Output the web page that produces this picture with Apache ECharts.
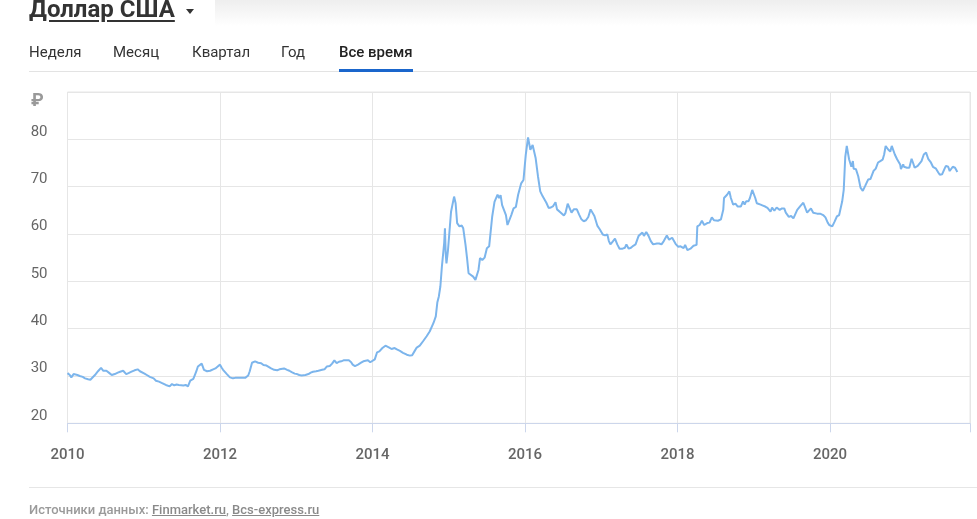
<!DOCTYPE html>
<html>
<head>
<meta charset="utf-8">
<script src="https://cdn.jsdelivr.net/npm/echarts@6/dist/echarts.min.js"></script>
<style>
  html, body { margin:0; padding:0; background:#fff; }
  body { width:977px; height:519px; position:relative; overflow:hidden; font-family: Roboto, "Noto Sans", Arial, sans-serif; }
  #chart { position:absolute; left:0; top:0; width:977px; height:519px; }
  .abs { position:absolute; white-space:nowrap; }
  .tab { font-size:15px; color:#333; line-height:20px; top:42px; }
</style>
</head>
<body>
<div id="chart"></div>
<div class="abs" style="left:215px;top:0;width:762px;height:26px;background:linear-gradient(#eeeeee,#ffffff);"></div>
<div class="abs" style="left:29px;top:-4px;font-size:24px;line-height:26px;font-weight:700;color:#333;text-decoration:underline;text-underline-offset:3px;">Доллар США</div>
<div class="abs" style="left:186px;top:9px;width:0;height:0;border-left:4px solid transparent;border-right:4px solid transparent;border-top:5px solid #333;"></div>
<div class="abs tab" style="left:29px;">Неделя</div>
<div class="abs tab" style="left:113px;">Месяц</div>
<div class="abs tab" style="left:192px;">Квартал</div>
<div class="abs tab" style="left:281px;">Год</div>
<div class="abs tab" style="left:339px;font-weight:500;color:#222;">Все время</div>
<div class="abs" style="left:29px;top:71px;width:948px;height:1px;background:#e3e3e3;"></div>
<div class="abs" style="left:339px;top:69px;width:74px;height:3px;background:#1a66cc;"></div>
<div class="abs" style="left:31px;top:89px;font-size:18px;font-weight:700;color:#999;">₽</div>
<div class="abs" style="left:29px;top:487px;width:948px;height:1px;background:#e6e6e6;"></div>
<div class="abs" style="left:29px;top:501px;font-size:13px;line-height:18px;font-weight:500;color:#9a9a9a;">Источники данных: <span style="text-decoration:underline;color:#8a8a8a;">Finmarket.ru</span>, <span style="text-decoration:underline;color:#8a8a8a;">Bcs-express.ru</span></div>
<script>
// USD/RUB, [decimal year, rate]
const rates2010_2011 = [
  [2010.00,30.6],[2010.03,30.2],[2010.05,29.7],[2010.08,30.4],[2010.10,30.4],[2010.13,30.2],[2010.16,30.0],
  [2010.20,29.8],[2010.23,29.5],[2010.27,29.3],[2010.30,29.2],[2010.32,29.5],[2010.36,30.2],[2010.40,31.0],
  [2010.44,31.7],[2010.47,31.1],[2010.51,31.1],[2010.55,30.6],[2010.58,30.2],[2010.62,30.4],[2010.66,30.7],
  [2010.69,30.9],[2010.73,31.1],[2010.77,30.4],[2010.80,30.6],[2010.84,30.9],[2010.88,31.2],[2010.92,31.4],
  [2010.95,31.0],[2010.97,30.8],[2011.01,30.5],[2011.04,30.2],[2011.08,29.8],[2011.13,29.5],[2011.16,29.0],
  [2011.20,28.8],[2011.24,28.5],[2011.29,28.1],[2011.34,27.8],[2011.37,28.3],[2011.40,28.0],[2011.43,28.2],
  [2011.46,28.1],[2011.48,28.3],[2011.52,28.0],[2011.55,28.1],[2011.58,27.8],[2011.61,29.0],[2011.63,29.3],
  [2011.65,29.4],[2011.67,30.2],[2011.69,31.0],[2011.71,32.0],[2011.73,32.4],[2011.76,32.6],[2011.79,31.3],
  [2011.81,30.9],[2011.83,31.0],[2011.87,31.1],[2011.91,31.4],[2011.94,31.6],[2011.97,32.0]
];
const rates2012_2013 = [
  [2012.00,32.4],[2012.02,31.8],[2012.04,31.3],[2012.09,30.4],[2012.13,29.7],[2012.17,29.5],[2012.20,29.6],
  [2012.22,29.5],[2012.26,29.6],[2012.30,29.6],[2012.33,29.6],[2012.37,30.1],[2012.39,31.0],[2012.42,32.8],
  [2012.44,33.1],[2012.46,33.1],[2012.50,32.8],[2012.54,32.7],[2012.57,32.3],[2012.59,32.1],[2012.61,32.2],
  [2012.63,32.4],[2012.67,31.6],[2012.71,31.3],[2012.75,31.2],[2012.78,31.4],[2012.80,31.3],[2012.84,31.6],
  [2012.88,31.3],[2012.91,31.1],[2012.94,30.8],[2012.98,30.5],[2013.01,30.4],[2013.04,30.2],[2013.07,30.1],
  [2013.12,30.2],[2013.16,30.4],[2013.19,30.7],[2013.22,30.9],[2013.26,31.0],[2013.29,31.1],[2013.34,31.3],
  [2013.37,31.4],[2013.40,32.0],[2013.44,32.1],[2013.47,32.6],[2013.50,33.3],[2013.53,32.7],[2013.56,33.0],
  [2013.59,33.1],[2013.62,33.3],[2013.66,33.3],[2013.69,33.3],[2013.72,32.9],[2013.74,32.4],[2013.77,32.1],
  [2013.81,32.4],[2013.85,32.8],[2013.88,33.1],[2013.90,33.3],[2013.94,33.3],[2013.97,32.9],[2013.99,32.8]
];
const rates2014_2015 = [
  [2014.03,33.5],[2014.06,35.0],[2014.09,35.2],[2014.13,35.9],[2014.17,36.4],[2014.19,36.6],[2014.22,36.0],
  [2014.25,35.7],[2014.29,35.9],[2014.32,35.6],[2014.36,35.3],[2014.40,34.9],[2014.45,34.5],[2014.49,34.3],
  [2014.52,34.4],[2014.55,35.2],[2014.58,36.0],[2014.62,36.4],[2014.67,37.5],[2014.71,38.4],[2014.75,39.4],
  [2014.80,41.2],[2014.83,42.6],[2014.85,45.5],[2014.87,46.8],[2014.89,48.9],[2014.91,53.1],[2014.94,58.1],
  [2014.95,61.2],[2014.96,55.9],[2014.97,53.8],[2014.99,56.6],[2015.01,57.0],[2015.03,64.7],[2015.05,65.1],
  [2015.07,67.9],[2015.09,66.5],[2015.11,62.3],[2015.14,61.6],[2015.17,61.8],[2015.19,61.2],[2015.22,57.7],
  [2015.24,54.9],[2015.26,51.7],[2015.28,51.4],[2015.32,51.0],[2015.35,50.3],[2015.36,50.0],[2015.39,52.4],
  [2015.41,54.9],[2015.44,54.5],[2015.47,55.0],[2015.50,57.0],[2015.53,57.4],[2015.57,63.7],[2015.60,66.8],
  [2015.64,68.3],[2015.66,67.6],[2015.67,67.9],[2015.68,68.2],[2015.70,66.1],[2015.72,65.8],[2015.75,64.0],
  [2015.77,61.9],[2015.79,62.2],[2015.82,64.0],[2015.85,65.4],[2015.88,65.7],[2015.91,68.3],[2015.93,69.5],
  [2015.95,70.7],[2015.98,71.4],[2015.99,73.2]
];
const rates2016_2017 = [
  [2016.01,76.7],[2016.04,80.4],[2016.07,77.8],[2016.10,78.8],[2016.14,76.0],[2016.17,72.2],[2016.20,69.0],
  [2016.23,68.0],[2016.25,68.2],[2016.28,66.6],[2016.31,65.5],[2016.34,65.6],[2016.37,65.9],[2016.40,66.7],
  [2016.42,65.2],[2016.44,65.6],[2016.47,64.5],[2016.51,63.9],[2016.53,64.4],[2016.56,66.4],[2016.58,66.0],
  [2016.61,64.5],[2016.64,65.2],[2016.66,64.8],[2016.68,65.2],[2016.71,64.1],[2016.74,63.1],[2016.77,62.7],
  [2016.80,62.9],[2016.83,63.6],[2016.86,65.2],[2016.88,64.8],[2016.91,63.8],[2016.95,61.7],[2016.98,61.0],
  [2017.02,59.9],[2017.05,59.7],[2017.08,59.9],[2017.10,58.5],[2017.12,57.8],[2017.15,58.4],[2017.18,59.0],
  [2017.21,57.8],[2017.24,56.9],[2017.28,56.9],[2017.31,57.1],[2017.33,57.8],[2017.36,56.9],[2017.39,57.1],
  [2017.42,57.5],[2017.45,57.8],[2017.49,59.6],[2017.51,59.7],[2017.54,60.3],[2017.56,59.6],[2017.59,60.4],
  [2017.62,59.6],[2017.65,58.5],[2017.68,57.8],[2017.73,58.0],[2017.76,58.0],[2017.79,57.8],[2017.82,58.5],
  [2017.86,59.7],[2017.89,58.8],[2017.93,59.2],[2017.95,58.9],[2017.98,57.8]
];
const rates2018_2019 = [
  [2018.01,57.3],[2018.04,57.4],[2018.08,57.0],[2018.10,57.7],[2018.13,56.6],[2018.17,56.9],[2018.21,57.5],
  [2018.25,57.7],[2018.26,61.6],[2018.29,61.9],[2018.32,62.8],[2018.35,61.9],[2018.39,62.3],[2018.42,62.4],
  [2018.45,63.5],[2018.48,62.9],[2018.50,63.3],[2018.53,62.8],[2018.55,63.2],[2018.57,63.1],[2018.60,65.1],
  [2018.61,67.6],[2018.65,68.3],[2018.68,69.0],[2018.70,67.6],[2018.73,66.2],[2018.76,66.4],[2018.79,65.8],
  [2018.83,65.8],[2018.86,66.9],[2018.88,66.2],[2018.90,66.9],[2018.93,66.9],[2018.95,67.6],[2018.98,69.3],
  [2019.00,69.5],[2019.02,67.6],[2019.04,66.5],[2019.09,66.2],[2019.12,66.0],[2019.15,65.8],[2019.18,65.5],
  [2019.22,64.7],[2019.24,65.6],[2019.27,64.9],[2019.30,65.6],[2019.34,65.1],[2019.37,65.4],[2019.40,65.4],
  [2019.42,64.5],[2019.46,63.6],[2019.49,63.8],[2019.52,63.3],[2019.54,63.6],[2019.57,65.1],[2019.61,65.9],
  [2019.65,66.6],[2019.67,66.4],[2019.70,64.5],[2019.72,64.4],[2019.75,65.4],[2019.78,64.5],[2019.83,64.3],
  [2019.87,64.3],[2019.91,64.0],[2019.94,63.5],[2019.97,62.4],[2019.99,61.9]
];
const rates2020_2021 = [
  [2020.03,61.6],[2020.06,62.6],[2020.09,63.7],[2020.12,64.0],[2020.16,66.9],[2020.18,69.3],[2020.20,76.3],
  [2020.22,78.6],[2020.25,75.8],[2020.28,74.2],[2020.30,75.4],[2020.31,73.8],[2020.34,73.7],[2020.37,72.2],
  [2020.40,69.8],[2020.43,69.1],[2020.46,70.1],[2020.48,69.8],[2020.50,71.5],[2020.53,71.6],[2020.57,73.3],
  [2020.60,73.8],[2020.63,75.1],[2020.66,75.4],[2020.69,75.7],[2020.71,76.8],[2020.73,78.6],[2020.76,77.9],
  [2020.79,77.4],[2020.81,78.6],[2020.83,78.7],[2020.85,76.8],[2020.88,75.8],[2020.92,74.7],[2020.93,73.7],
  [2020.96,74.7],[2020.97,74.2],[2021.01,74.0],[2021.04,74.0],[2021.07,75.9],[2021.09,75.0],[2021.11,74.0],
  [2021.15,74.4],[2021.17,74.2],[2021.20,75.4],[2021.23,76.8],[2021.26,77.2],[2021.29,75.8],[2021.32,75.2],
  [2021.35,74.2],[2021.39,73.8],[2021.42,73.0],[2021.44,72.5],[2021.47,72.6],[2021.50,73.7],[2021.52,74.4],
  [2021.55,74.2],[2021.57,73.3],[2021.61,74.2],[2021.64,74.0],[2021.67,73.1]
];
const xTickYears = [2010, 2012, 2014, 2016, 2018, 2020];
const yTicks = [20, 30, 40, 50, 60, 70, 80];

const seriesData = [].concat(rates2010_2011, rates2012_2013, rates2014_2015, rates2016_2017, rates2018_2019, rates2020_2021);

const chart = echarts.init(document.getElementById('chart'), null, { renderer: 'canvas' });
chart.setOption({
  animation: false,
  backgroundColor: 'transparent',
  grid: { left: 67.5, right: 7, top: 92, bottom: 95.7, show: true, borderColor: '#e6e6e6', borderWidth: 1, backgroundColor: 'transparent' },
  xAxis: {
    type: 'value', min: 2010, max: 2021.836, interval: 2,
    axisLine: { show: true, lineStyle: { color: '#ccd6eb', width: 1 } },
    axisTick: { show: true, length: 9, lineStyle: { color: '#ccd6eb' } },
    splitLine: { show: true, lineStyle: { color: '#e6e6e6', width: 1 } },
    axisLabel: {
      formatter: v => xTickYears.indexOf(Math.round(v * 1000) / 1000) >= 0 ? String(Math.round(v)) : '',
      color: '#666', fontSize: 15, fontWeight: 500, margin: 24, fontFamily: 'Roboto'
    }
  },
  yAxis: {
    type: 'value', min: 20, max: 90, interval: 10,
    axisLine: { show: false }, axisTick: { show: false },
    splitLine: { show: true, lineStyle: { color: '#e6e6e6', width: 1 } },
    axisLabel: {
      formatter: v => yTicks.indexOf(v) >= 0 ? String(v) : '',
      color: '#666', fontSize: 15, margin: 20, verticalAlign: 'bottom', fontFamily: 'Roboto'
    }
  },
  series: [{
    type: 'line', data: seriesData, showSymbol: false, symbol: 'none',
    lineStyle: { color: '#7cb5ec', width: 2 }, itemStyle: { color: '#7cb5ec' }
  }]
});
</script>
</body>
</html>
